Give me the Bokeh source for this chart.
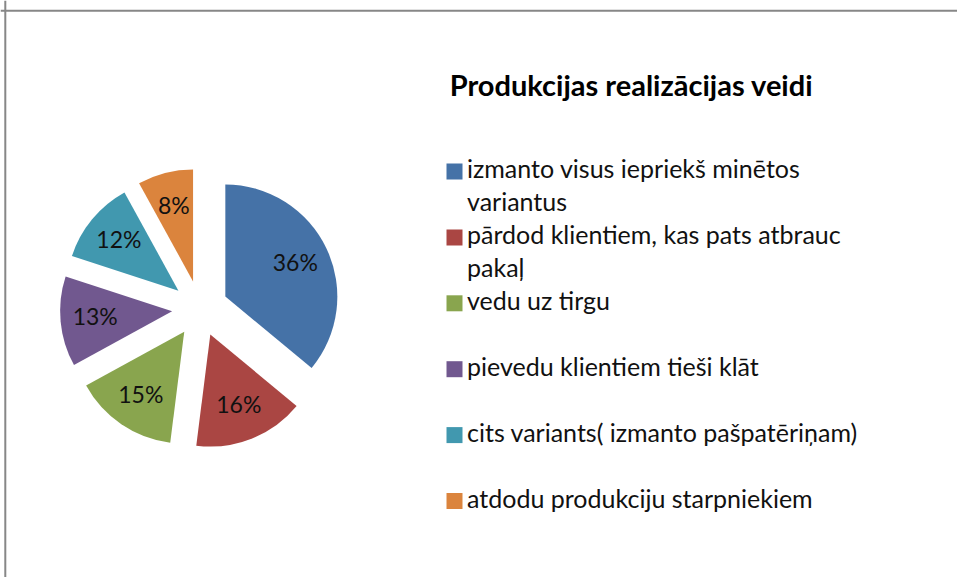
import math
from bokeh.plotting import figure
from bokeh.models import Range1d, Span, ColumnDataSource
from bokeh.embed import file_html
from bokeh.resources import INLINE
from bokeh.core.properties import value

title_text = "Produkcijas realizācijas veidi"
categories = [
    "izmanto visus iepriekš minētos variantus",
    "pārdod klientiem, kas pats atbrauc pakaļ",
    "vedu uz tirgu",
    "pievedu klientiem tieši klāt",
    "cits variants( izmanto pašpatēriņam)",
    "atdodu produkciju starpniekiem",
]
legend_lines = [
    ["izmanto visus iepriekš minētos", "variantus"],
    ["pārdod klientiem, kas pats atbrauc", "pakaļ"],
    ["vedu uz tirgu"],
    ["pievedu klientiem tieši klāt"],
    ["cits variants( izmanto pašpatēriņam)"],
    ["atdodu produkciju starpniekiem"],
]
values = [36, 16, 15, 13, 12, 8]
colors = ["#4572A7", "#AA4643", "#89A54E", "#71588F", "#4198AF", "#DB843D"]

W, H = 957, 577
FONT = "Lato"

p = figure(width=W, height=H, x_range=Range1d(0, W), y_range=Range1d(0, H),
           output_backend="svg", toolbar_location=None, min_border=0,
           x_axis_location=None, y_axis_location=None)
p.grid.visible = False
p.outline_line_color = None
p.background_fill_color = "white"
p.border_fill_color = "white"

# chart border (top and left visible)
p.add_layout(Span(location=H - 10.2, dimension="width", line_color="#878787", line_width=2))
p.add_layout(Span(location=4.8, dimension="height", line_color="#878787", line_width=2))

# pie geometry
cx, cy = 199.5, H - 308.0
r = 112.0
explode = 28.0
label_k = 0.69

total = float(sum(values))
xs, ys, starts, ends, lx, ly, texts = [], [], [], [], [], [], []
cum = 0.0
for v in values:
    f0 = cum / total
    f1 = (cum + v) / total
    cum += v
    a0 = math.radians(90 - 360 * f0)
    a1 = math.radians(90 - 360 * f1)
    mid = (a0 + a1) / 2
    ox = cx + explode * math.cos(mid)
    oy = cy + explode * math.sin(mid)
    xs.append(ox); ys.append(oy)
    starts.append(a0); ends.append(a1)
    lx.append(ox + label_k * r * math.cos(mid))
    ly.append(oy + label_k * r * math.sin(mid) + 2.0)
    texts.append(f"{v}%")

src = ColumnDataSource(dict(x=xs, y=ys, start=starts, end=ends, color=colors,
                            lx=lx, ly=ly, text=texts))
p.wedge(x="x", y="y", radius=r, start_angle="start", end_angle="end",
        direction="clock", fill_color="color", line_color=None, source=src)
p.text(x="lx", y="ly", text="text", source=src, text_align="center",
       text_baseline="middle", text_font=value(FONT), text_font_size="23px",
       text_color="#111111")

# title
p.text(x=[631], y=[H - 83.5], text=[title_text], text_align="center",
       text_baseline="middle", text_font=value("Lato"),
       text_font_style="bold", text_font_size="29px", text_color="#000000")

# legend
row0 = H - 171.0
row_step = 65.9
line_step = 32.3
sq_x = 454.0
tx = 466.5
sq_xs, sq_ys, t_x, t_y, t_text = [], [], [], [], []
for i, lines in enumerate(legend_lines):
    yc = row0 - i * row_step
    sq_xs.append(sq_x); sq_ys.append(yc)
    for k, ln in enumerate(lines):
        t_x.append(tx); t_y.append(yc + 3.2 - k * line_step); t_text.append(ln)

p.rect(x=sq_xs, y=sq_ys, width=16, height=16, fill_color=colors, line_color=None)
p.text(x=t_x, y=t_y, text=t_text, text_align="left", text_baseline="middle",
       text_font=value(FONT), text_font_size="25px", text_color="#111111")

open("out.html", "w").write(file_html(p, INLINE))
